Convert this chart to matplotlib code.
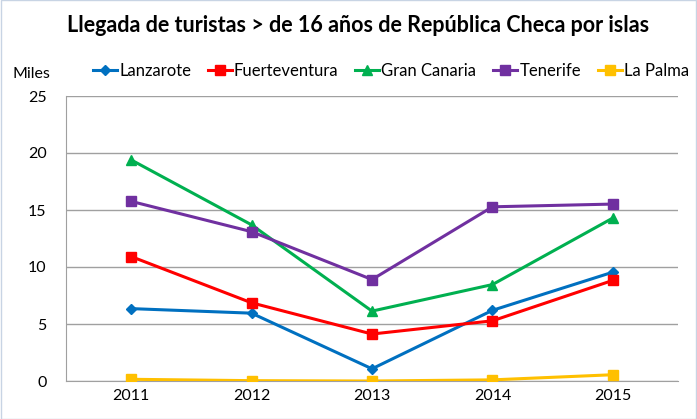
import matplotlib.pyplot as plt
from matplotlib.patches import Rectangle

years = ['2011', '2012', '2013', '2014', '2015']
lanzarote = [6.35, 5.95, 1.07, 6.2, 9.55]
fuerteventura = [10.92, 6.86, 4.12, 5.28, 8.83]
gran_canaria = [19.4, 13.7, 6.13, 8.46, 14.3]
tenerife = [15.76, 13.1, 8.9, 15.28, 15.52]
la_palma = [0.15, 0.03, 0.0, 0.1, 0.55]

series = [
    ('Lanzarote', lanzarote, '#0070C0', 'D', 5),
    ('Fuerteventura', fuerteventura, '#FF0000', 's', 7),
    ('Gran Canaria', gran_canaria, '#00B050', '^', 7),
    ('Tenerife', tenerife, '#7030A0', 's', 7),
    ('La Palma', la_palma, '#FFC000', 's', 7),
]

plt.rcParams['font.family'] = ['Lato', 'DejaVu Sans']

fig = plt.figure(figsize=(6.97, 4.19), dpi=100)
ax = fig.add_axes([66 / 697, 38 / 419, 612 / 697, 285 / 419])

x = list(range(len(years)))
for name, vals, color, marker, ms in series:
    ax.plot(x, vals, color=color, lw=2.2, marker=marker, markersize=ms,
            label=name, zorder=3)

ax.set_xlim(-0.54, len(years) - 0.46)
ax.set_ylim(0, 25)
ax.set_yticks(range(0, 26, 5))
ax.set_xticks(x)
ax.set_xticklabels(years)
ax.tick_params(axis='both', length=0, labelsize=11.5, colors='black')
ax.tick_params(axis='y', pad=14)
ax.tick_params(axis='x', pad=6)
ax.grid(axis='y', color='#A0A0A0', lw=1)
ax.set_axisbelow(True)
for side in ['top', 'right']:
    ax.spines[side].set_visible(False)
ax.spines['left'].set_color('#A0A0A0')
ax.spines['bottom'].set_color('#A0A0A0')

fig.text(0.514, 1 - 26 / 419, 'Llegada de turistas > de 16 años de República Checa por islas',
         ha='center', va='center', fontsize=15.5, fontweight='bold')
fig.text(12 / 697, 1 - 74 / 419, 'Miles', ha='left', va='center', fontsize=11.5)

fig.legend(loc='center left', bbox_to_anchor=(93 / 697, 1 - 71 / 419), ncol=5,
           frameon=False, fontsize=12, handlelength=1.45, handletextpad=0.12,
           columnspacing=1.0, borderaxespad=0, borderpad=0)

fig.patches.append(Rectangle((0.001, 0.001), 0.998, 0.998, transform=fig.transFigure,
                             fill=False, edgecolor='#C8D4E4', lw=1))

fig.savefig('out.png', dpi=100)
